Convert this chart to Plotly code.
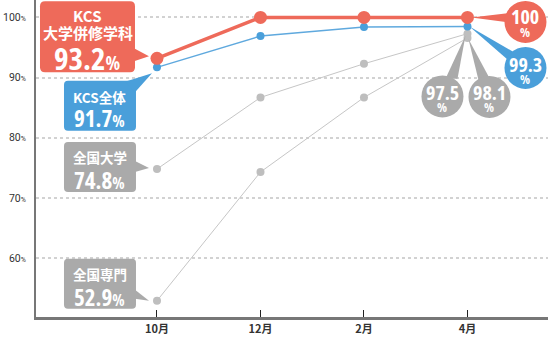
import plotly.graph_objects as go

# ---------------- data ----------------
months = ["10月", "12月", "2月", "4月"]
kcs_heishu = [93.2, 100, 100, 100]        # KCS 大学併修学科
kcs_all = [91.7, 96.9, 98.4, 98.5]         # KCS全体
zenkoku_daigaku = [74.8, 86.7, 92.3, 97.3]  # 全国大学
zenkoku_senmon = [52.9, 74.3, 86.7, 96.6]   # 全国専門

start_labels = ["93.2", "91.7", "74.8", "52.9"]
end_labels = ["100", "99.3", "97.5", "98.1"]
y_ticks = [60, 70, 80, 90, 100]

RED = "#EE6A5A"
BLUE = "#4A9FDA"
GRAY = "#AAAAAA"
LINE_GRAY = "#C6C6C6"

JP = "Noto Sans CJK JP, Noto Sans, sans-serif"
NUM = "Open Sans, sans-serif"

xs = list(range(len(months)))

fig = go.Figure()
fig.add_trace(go.Scatter(x=xs, y=zenkoku_senmon, mode="lines+markers",
                         line=dict(color=LINE_GRAY, width=1),
                         marker=dict(color="#BEBEBE", size=8), hoverinfo="skip"))
fig.add_trace(go.Scatter(x=xs, y=zenkoku_daigaku, mode="lines+markers",
                         line=dict(color=LINE_GRAY, width=1),
                         marker=dict(color="#BEBEBE", size=8), hoverinfo="skip"))
fig.add_trace(go.Scatter(x=xs, y=kcs_all, mode="lines+markers",
                         line=dict(color="#5FA9DE", width=1.5),
                         marker=dict(color=BLUE, size=8), hoverinfo="skip"))
fig.add_trace(go.Scatter(x=xs, y=kcs_heishu, mode="lines+markers",
                         line=dict(color=RED, width=3.5),
                         marker=dict(color=RED, size=13), hoverinfo="skip"))

shapes = []
annotations = []


def P(x, y):
    # screen offsets (y down) -> plotly pixel offsets (y up)
    return f"{x},{-y}"


def rrect(x0, y0, x1, y1, r):
    return ("M " + P(x0 + r, y0) + " L " + P(x1 - r, y0) + " Q " + P(x1, y0) + " " + P(x1, y0 + r) +
            " L " + P(x1, y1 - r) + " Q " + P(x1, y1) + " " + P(x1 - r, y1) +
            " L " + P(x0 + r, y1) + " Q " + P(x0, y1) + " " + P(x0, y1 - r) +
            " L " + P(x0, y0 + r) + " Q " + P(x0, y0) + " " + P(x0 + r, y0) + " Z")


def tri(pts):
    return "M " + " L ".join(P(a, b) for a, b in pts) + " Z"


def pshape(xa, ya, path, color):
    shapes.append(dict(type="path", xref="x", yref="y", xsizemode="pixel", ysizemode="pixel",
                       xanchor=xa, yanchor=ya, path=path, fillcolor=color,
                       line=dict(width=0), layer="above"))


def circle(xa, ya, cx, cy, r, color):
    shapes.append(dict(type="circle", xref="x", yref="y", xsizemode="pixel", ysizemode="pixel",
                       xanchor=xa, yanchor=ya, x0=cx - r, x1=cx + r, y0=-cy - r, y1=-cy + r,
                       fillcolor=color, line=dict(width=0), layer="above"))


def text(xa, ya, dx, dy, t, size, family=JP):
    annotations.append(dict(x=xa, y=ya, xref="x", yref="y", xshift=dx, yshift=-dy,
                            text=t, showarrow=False, borderpad=0,
                            font=dict(family=family, size=size, color="white", weight="bold"),
                            xanchor="center", yanchor="middle"))


def cond(t):
    return f"<span style='font-stretch:condensed'>{t}</span>"


def pct(v, big, small):
    return (f"<span style='font-stretch:condensed;font-size:{big}px'>{v}</span>"
            f"<span style='font-stretch:condensed;font-size:{small}px'>%</span>")


# ---- left callouts (anchored to 10月 points) ----
x0i = xs[0]
# KCS 大学併修学科
ya = kcs_heishu[0]
pshape(x0i, ya, rrect(-117, -57, -22, 14, 5), RED)
pshape(x0i, ya, tri([(-23, -10), (-8, -2), (-23, 3)]), RED)
text(x0i, ya, -69, -43, "KCS", 15)
text(x0i, ya, -69, -26, "大学併修学科", 15)
text(x0i, ya, -69, 0, pct(start_labels[0], 31, 19), 31, NUM)

# KCS全体
ya = kcs_all[0]
pshape(x0i, ya, rrect(-93, 13.5, -21, 63.5, 4), BLUE)
pshape(x0i, ya, tri([(-32, 14.5), (-22, 25), (-5, 6)]), BLUE)
text(x0i, ya, -57, 30, "KCS全体", 13.5)
text(x0i, ya, -57, 51, pct(start_labels[1], 23, 16), 23, NUM)

# 全国大学
ya = zenkoku_daigaku[0]
pshape(x0i, ya, rrect(-93, -27, -21, 23, 4), GRAY)
pshape(x0i, ya, tri([(-22, -8), (-8, -1), (-22, 3)]), GRAY)
text(x0i, ya, -57, -12, "全国大学", 13.5)
text(x0i, ya, -57, 11, pct(start_labels[2], 23, 16), 23, NUM)

# 全国専門
ya = zenkoku_senmon[0]
pshape(x0i, ya, rrect(-93, -42, -21, 8, 4), GRAY)
pshape(x0i, ya, tri([(-22, -11), (-8, 0), (-22, -2)]), GRAY)
text(x0i, ya, -57, -27, "全国専門", 13.5)
text(x0i, ya, -57, -4, pct(start_labels[3], 23, 16), 23, NUM)

# ---- right bubbles (anchored to 4月 points) ----
x3 = xs[3]
ya = kcs_heishu[3]
pshape(x3, ya, tri([(4, 0), (42, -4.5), (42, 5)]), RED)
circle(x3, ya, 58, 4.5, 21, RED)
text(x3, ya, 58, -1, cond(end_labels[0]), 20, NUM)
text(x3, ya, 58, 15, cond("%"), 13, NUM)

ya = kcs_all[3]
pshape(x3, ya, tri([(2, 0), (47, 26), (40, 33)]), BLUE)
circle(x3, ya, 58, 41.5, 21, BLUE)
text(x3, ya, 58, 38, cond(end_labels[1]), 20, NUM)
text(x3, ya, 58, 53, cond("%"), 13, NUM)

ya = zenkoku_daigaku[3]
pshape(x3, ya, tri([(-2, 2), (-22, 45), (-10, 45)]), GRAY)
circle(x3, ya, -25, 62.7, 21, GRAY)
text(x3, ya, -25, 58.5, cond(end_labels[2]), 20, NUM)
text(x3, ya, -25, 73, cond("%"), 13, NUM)

ya = zenkoku_senmon[3]
pshape(x3, ya, tri([(1, 1), (11, 42), (23, 42)]), GRAY)
circle(x3, ya, 22, 59, 21, GRAY)
text(x3, ya, 22, 55, cond(end_labels[3]), 20, NUM)
text(x3, ya, 22, 69.5, cond("%"), 13, NUM)

fig.update_layout(
    width=548, height=337,
    margin=dict(l=36, r=0, t=0, b=20),
    paper_bgcolor="white", plot_bgcolor="white",
    showlegend=False,
    shapes=shapes, annotations=annotations,
    xaxis=dict(range=[-1.169, 3.778], tickmode="array", tickvals=xs, ticktext=months,
               showgrid=False, zeroline=False, showline=True, linecolor="#777777", linewidth=2.5,
               ticks="inside", ticklen=7, tickwidth=1, tickcolor="#222222",
               tickfont=dict(family=JP, size=11, color="#333333", weight="bold"),
               fixedrange=True),
    yaxis=dict(range=[50.2, 102.9], tickmode="array", tickvals=y_ticks,
               ticktext=[f"{v}<span style='font-size:7px'>%</span>" for v in y_ticks],
               showgrid=True, gridcolor="#D2D2D2", gridwidth=1.5, griddash="dot",
               zeroline=False, showline=True, linecolor="#777777", linewidth=2,
               ticks="", ticklabelstandoff=6,
               tickfont=dict(family="Roboto, Noto Sans, sans-serif", size=10.5, color="#333333"),
               fixedrange=True),
)

fig.write_html("out.html", config={"displayModeBar": False})
